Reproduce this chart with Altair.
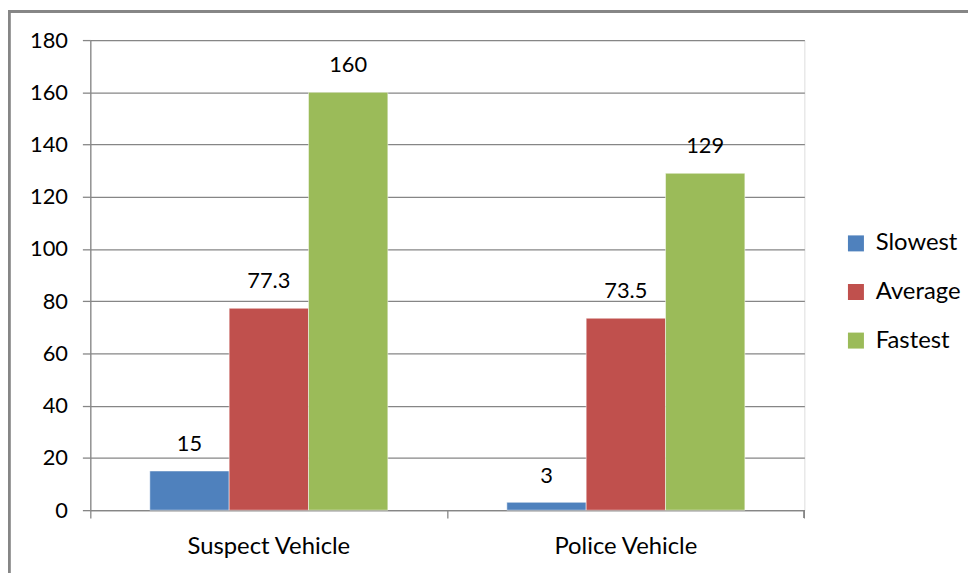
import altair as alt
import pandas as pd

categories = ["Suspect Vehicle", "Police Vehicle"]
series = ["Slowest", "Average", "Fastest"]
slowest = [15, 3]
average = [77.3, 73.5]
fastest = [160, 129]
colors = ["#4F81BD", "#C0504D", "#9BBB59"]
y_ticks = list(range(0, 181, 20))

rows = []
for i, c in enumerate(categories):
    for s, vals in zip(series, [slowest, average, fastest]):
        v = vals[i]
        rows.append({"cat": c, "series": s, "value": v,
                     "label": (f"{v:g}")})
df = pd.DataFrame(rows)

FONT = "Lato"
W, H = 720, 474

x_enc = alt.X("cat:N", sort=categories, title=None,
              scale=alt.Scale(paddingInner=0, paddingOuter=0),
              axis=alt.Axis(labelAngle=0, bandPosition=0, tickSize=8,
                            labelPadding=17, domainColor="#868686",
                            tickColor="#868686", domainWidth=1.3,
                            tickWidth=1.3, labelFontSize=24,
                            labelFont=FONT, labelColor="black", grid=False))
xoff = alt.XOffset("series:N", sort=series,
                   scale=alt.Scale(paddingInner=0, paddingOuter=0.75))
y_enc = alt.Y("value:Q", title=None,
              scale=alt.Scale(domain=[0, 180], nice=False),
              axis=alt.Axis(values=y_ticks, tickSize=8, labelPadding=15,
                            domainColor="#868686", tickColor="#868686",
                            domainWidth=1.3, tickWidth=1.3,
                            gridColor="#868686", gridWidth=1.3,
                            labelFontSize=22, labelFont=FONT,
                            labelColor="black"))

bars = alt.Chart(df).mark_bar(stroke="white", strokeWidth=0.5).encode(
    x=x_enc, xOffset=xoff, y=y_enc,
    color=alt.Color("series:N", sort=series,
                    scale=alt.Scale(domain=series, range=colors),
                    legend=alt.Legend(title=None, orient="none",
                                      legendX=760, legendY=193,
                                      symbolType="square", symbolSize=260,
                                      symbolStrokeWidth=0,
                                      labelFontSize=24, labelFont=FONT,
                                      labelColor="black", rowPadding=25,
                                      labelOffset=8)),
)

texts = alt.Chart(df).mark_text(baseline="bottom", dy=-15, fontSize=22,
                                font=FONT, color="black").encode(
    x=alt.X("cat:N", sort=categories),
    xOffset=alt.XOffset("series:N", sort=series),
    y="value:Q",
    text="label:N",
)

right_tick = alt.Chart(df).mark_rule(color="#868686", strokeWidth=1.3).encode(
    x=alt.value(W), y=alt.value(H), y2=alt.value(H + 8))

border = alt.Chart(df).mark_rect(fill=None, stroke="#868686",
                                 strokeWidth=2.5).encode(
    x=alt.value(-82), x2=alt.value(960), y=alt.value(-29), y2=alt.value(600))

chart = alt.layer(bars, texts, right_tick, border).properties(
    width=W, height=H,
    autosize=alt.AutoSizeParams(type="none"),
    padding={"left": 83, "top": 30, "right": 165, "bottom": 61},
).configure_view(stroke=None).configure(background="white")

chart.save("out.html", embed_options={"renderer": "svg", "actions": False})
